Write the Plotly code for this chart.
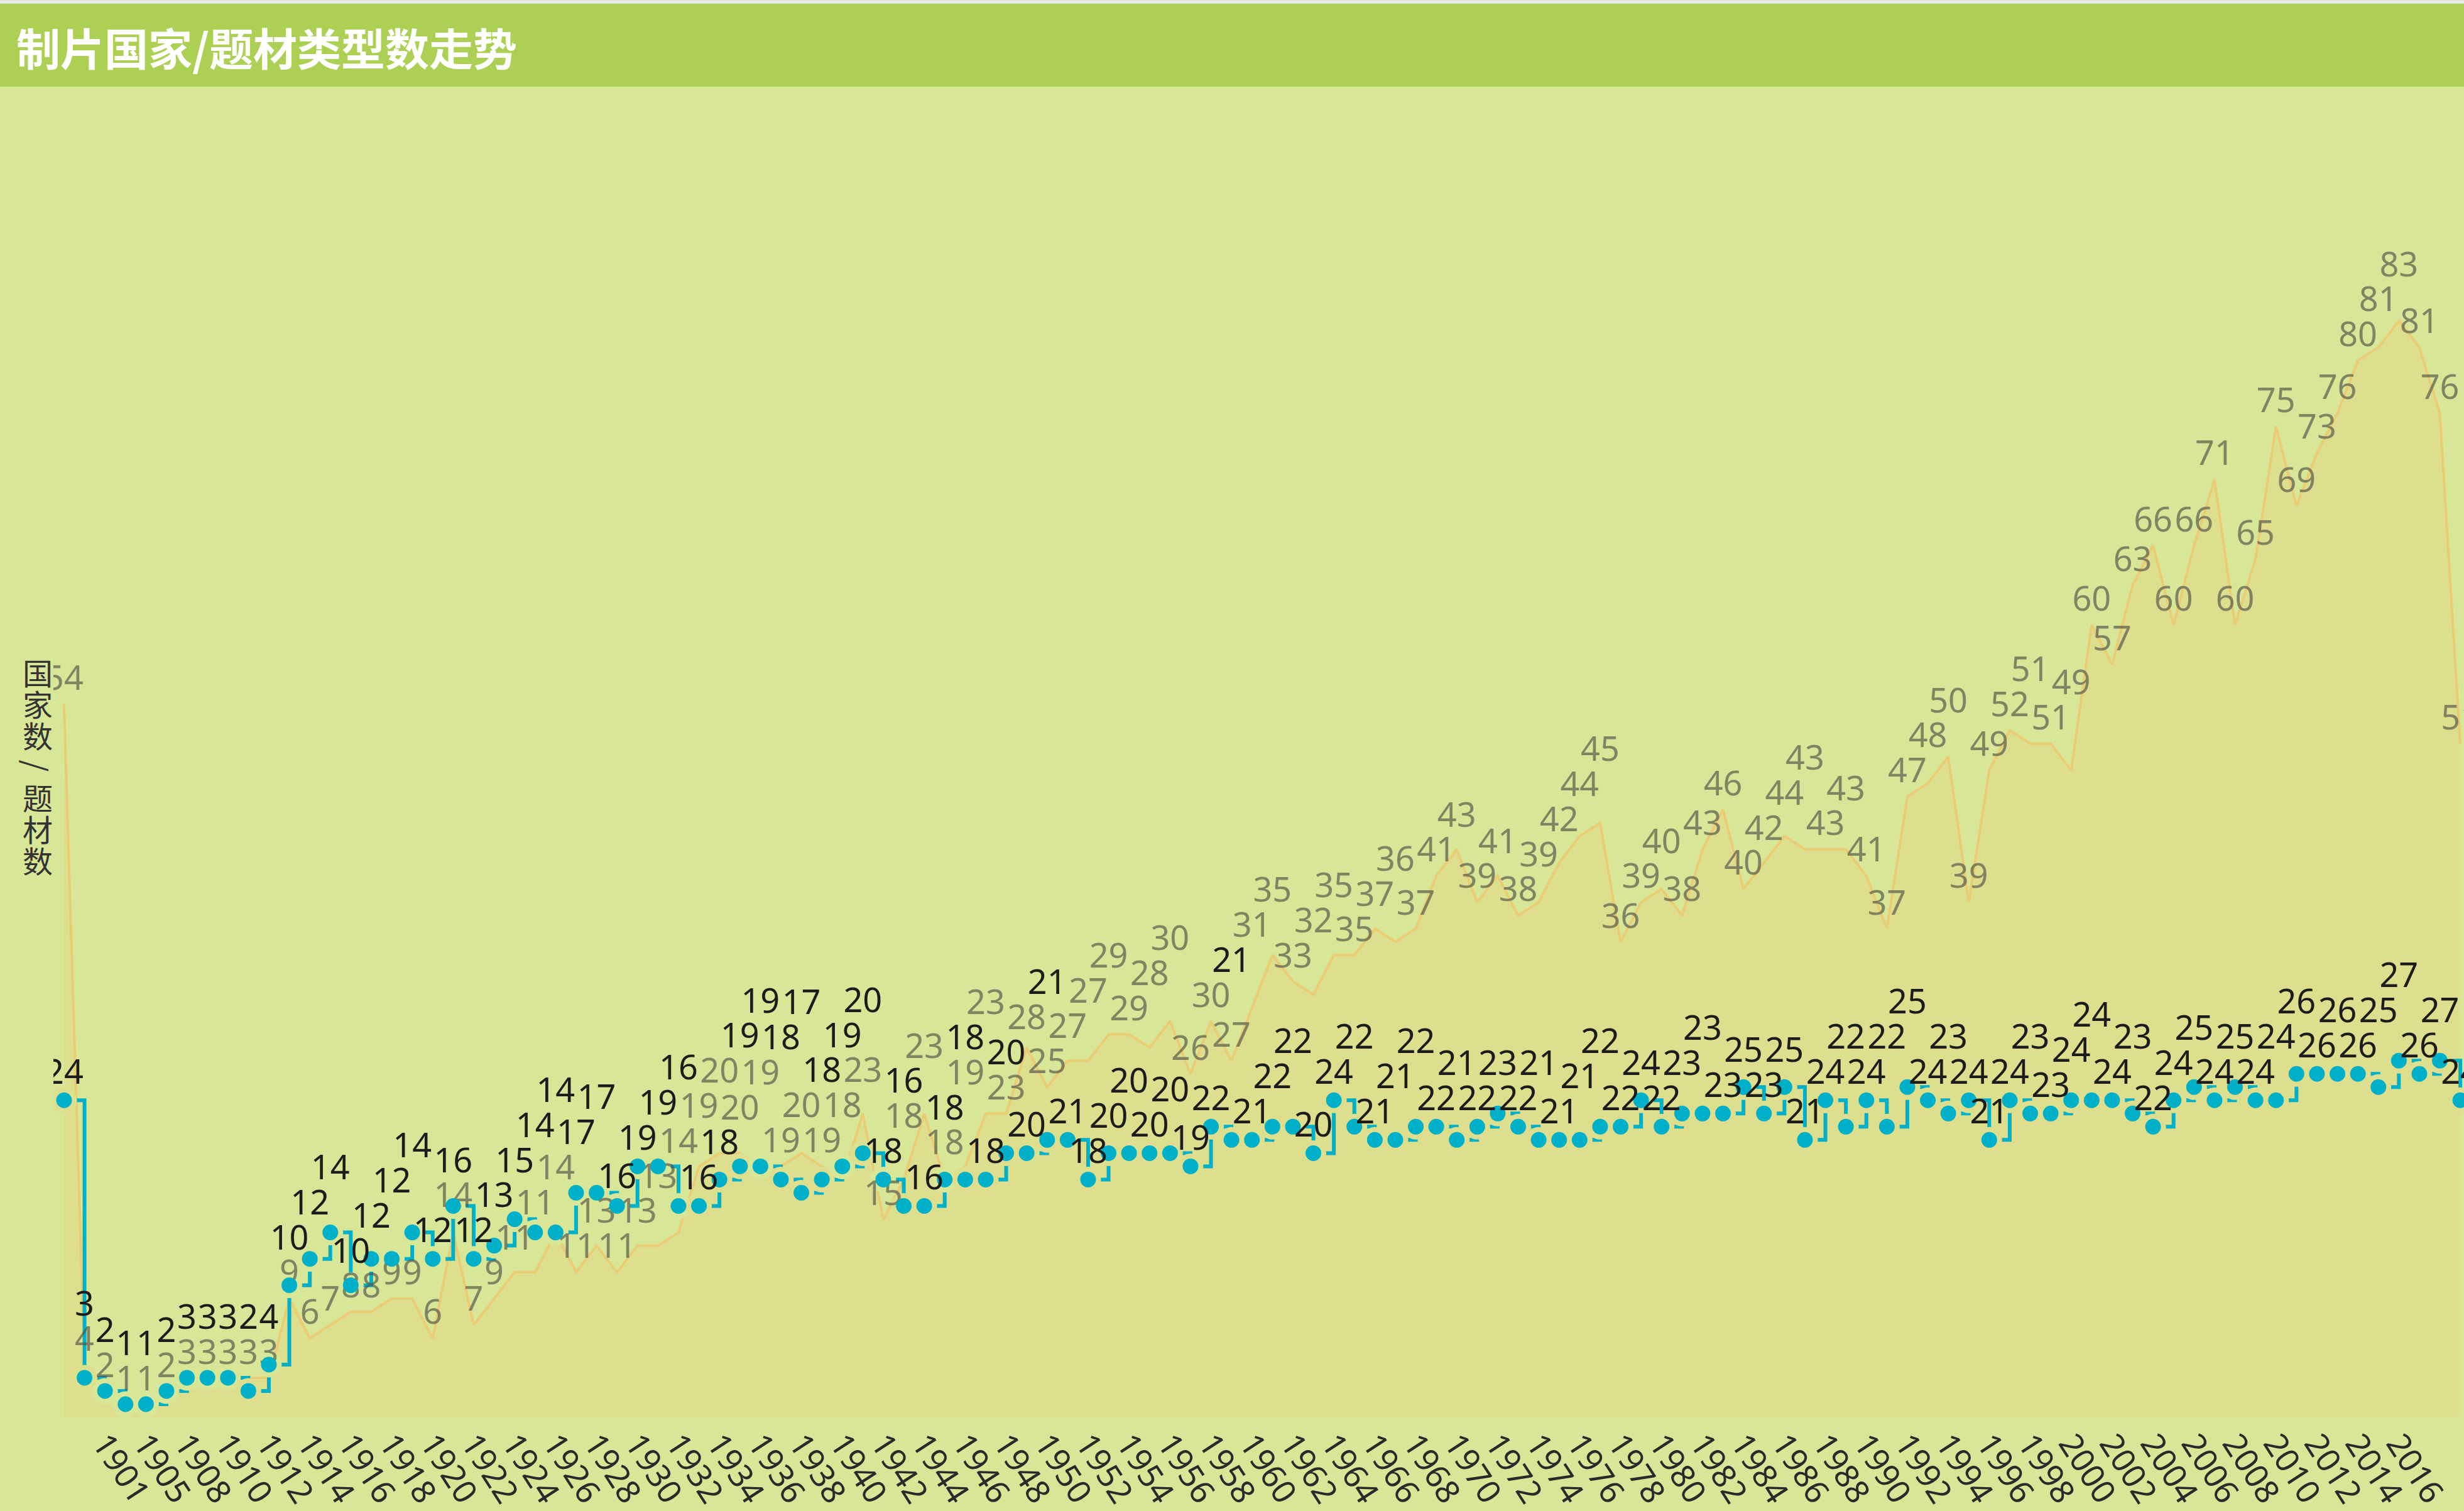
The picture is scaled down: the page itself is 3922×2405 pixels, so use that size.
import plotly.graph_objects as go

# categories: first one has no year label in the source chart
years = ["", "1900", "1901", "1903", "1905", "1906"] + [str(y) for y in range(1908, 2020)]

# 国家数 (area series, grey labels)
country_counts = [
    54, 4, 2, 1, 1, 2, 3, 3, 3, 3,
    3, 9, 6, 7, 8, 8, 9, 9, 6, 14,
    7, 9, 11, 11, 14, 11, 13, 11, 13, 13,
    14, 19, 20, 20, 19, 19, 20, 19, 18, 23,
    15, 18, 23, 18, 19, 23, 23, 28, 25, 27,
    27, 29, 29, 28, 30, 26, 30, 27, 31, 35,
    33, 32, 35, 35, 37, 36, 37, 41, 43, 39,
    41, 38, 39, 42, 44, 45, 36, 39, 40, 38,
    43, 46, 40, 42, 44, 43, 43, 43, 41, 37,
    47, 48, 50, 39, 49, 52, 51, 51, 49, 60,
    57, 63, 66, 60, 66, 71, 60, 65, 75, 69,
    73, 76, 80, 81, 83, 81, 76, 51,
]

# 题材数 (step series, black labels)
genre_counts = [
    24, 3, 2, 1, 1, 2, 3, 3, 3, 2,
    4, 10, 12, 14, 10, 12, 12, 14, 12, 16,
    12, 13, 15, 14, 14, 17, 17, 16, 19, 19,
    16, 16, 18, 19, 19, 18, 17, 18, 19, 20,
    18, 16, 16, 18, 18, 18, 20, 20, 21, 21,
    18, 20, 20, 20, 20, 19, 22, 21, 21, 22,
    22, 20, 24, 22, 21, 21, 22, 22, 21, 22,
    23, 22, 21, 21, 21, 22, 22, 24, 22, 23,
    23, 23, 25, 23, 25, 21, 24, 22, 24, 22,
    25, 24, 23, 24, 21, 24, 23, 23, 24, 24,
    24, 23, 22, 24, 25, 24, 25, 24, 24, 26,
    26, 26, 26, 25, 27, 26, 27, 24,
]

title_text = "制片国家/题材类型数走势"
y_title = "国家数/题材数"

W, H = 3922, 2405
L, R, T, B = 85, 0, 153, 142
plot_w = W - L - R
plot_h = H - T - B
x_lo, x_hi = -0.52, len(years) - 1 + 0.18
y_lo, y_hi = 0, 100

bg = "#d8e698"
fill = "#dddf8e"
bar = "#acd054"
cyan = "#00b0c8"
grey_txt = "rgba(80,80,70,0.65)"
black_txt = "#1c1c1c"
label_size = 54

xs = list(range(len(years)))

# simple overlap avoidance for value labels: shift up until free
ppx = plot_w / (x_hi - x_lo)
ppy = plot_h / (y_hi - y_lo)
label_h = 56
digit_w = 30
boxes = []


def place(i, val, off):
    cx = i * ppx
    w = len(str(val)) * digit_w
    cy = val * ppy + off
    while True:
        hits = [b for b in boxes
                if abs(b[0] - cx) < (b[1] + w) / 2 - 0.01 and abs(b[2] - cy) < label_h - 0.01]
        if not hits:
            break
        cy = max(b[2] for b in hits) + label_h
    boxes.append((cx, w, cy))
    return cy / ppy


grey_y, black_y = [], []
for i in xs:
    grey_y.append(place(i, country_counts[i], 36))
    black_y.append(place(i, genre_counts[i], 40))

ring_colors = [fill if g < c else bg for g, c in zip(genre_counts, country_counts)]

fig = go.Figure()
fig.add_trace(go.Scatter(
    x=xs, y=country_counts, mode="lines", fill="tozeroy", fillcolor=fill,
    line=dict(color="rgba(245,190,95,0.6)", width=4), hoverinfo="skip", name="国家数"))
fig.add_trace(go.Scatter(
    x=xs, y=genre_counts, mode="lines", line=dict(color=cyan, width=6, shape="hv"),
    hoverinfo="skip", name="题材数"))
fig.add_trace(go.Scatter(
    x=xs, y=genre_counts, mode="markers", marker=dict(size=41, color=ring_colors),
    hoverinfo="skip"))
fig.add_trace(go.Scatter(
    x=xs, y=grey_y, mode="text", text=[str(v) for v in country_counts],
    textposition="middle center",
    textfont=dict(family="Noto Sans", size=label_size, color=grey_txt), hoverinfo="skip"))
fig.add_trace(go.Scatter(
    x=xs, y=genre_counts, mode="markers", marker=dict(size=25, color=cyan),
    hoverinfo="skip"))
fig.add_trace(go.Scatter(
    x=xs, y=black_y, mode="text", text=[str(v) for v in genre_counts],
    textposition="middle center",
    textfont=dict(family="Noto Sans", size=label_size, color=black_txt), hoverinfo="skip"))


def px_to_paper(px, py):
    return (px - L) / plot_w, (H - B - py) / plot_h


# title bar
x0, y0 = px_to_paper(0, 138)
x1, y1 = px_to_paper(W, 5)
fig.add_shape(type="rect", xref="paper", yref="paper", x0=x0, x1=x1, y0=y0, y1=y1,
              fillcolor=bar, line_width=0)
_, yt = px_to_paper(0, 0)
fig.add_shape(type="rect", xref="paper", yref="paper", x0=x0, x1=x1, y0=y1, y1=yt,
              fillcolor="#e6eaee", line_width=0)
tx, ty = px_to_paper(24, 74)
fig.add_annotation(text=title_text, xref="paper", yref="paper", x=tx, y=ty,
                   xanchor="left", yanchor="middle", showarrow=False,
                   font=dict(family="Noto Sans CJK SC", size=70, color="white", weight="bold"))

# vertical axis title, one character per line
for k, ch in enumerate(y_title):
    ax, ay = px_to_paper(60, 1072 + 50 * k)
    fig.add_annotation(text=ch, xref="paper", yref="paper", x=ax, y=ay,
                       xanchor="center", yanchor="middle", showarrow=False,
                       textangle=90 if ch == "/" else 0,
                       font=dict(family="Noto Sans CJK SC", size=48, color="#333333"))

fig.update_layout(
    width=W, height=H, margin=dict(l=L, r=R, t=T, b=B),
    paper_bgcolor=bg, plot_bgcolor=bg, showlegend=False,
)
fig.update_xaxes(range=[x_lo, x_hi], tickvals=xs[::2], ticktext=years[::2],
                 tickangle=57, showgrid=False, zeroline=False, showline=False, ticks="",
                 tickfont=dict(family="Noto Sans", size=52, color="#2a2a2a"))
fig.update_yaxes(range=[y_lo, y_hi], showgrid=False, zeroline=False, showline=False,
                 showticklabels=False, ticks="")

fig.write_html("out.html", config={"displayModeBar": False},
               post_script="document.body.style.margin='0';document.body.style.overflow='hidden';")
